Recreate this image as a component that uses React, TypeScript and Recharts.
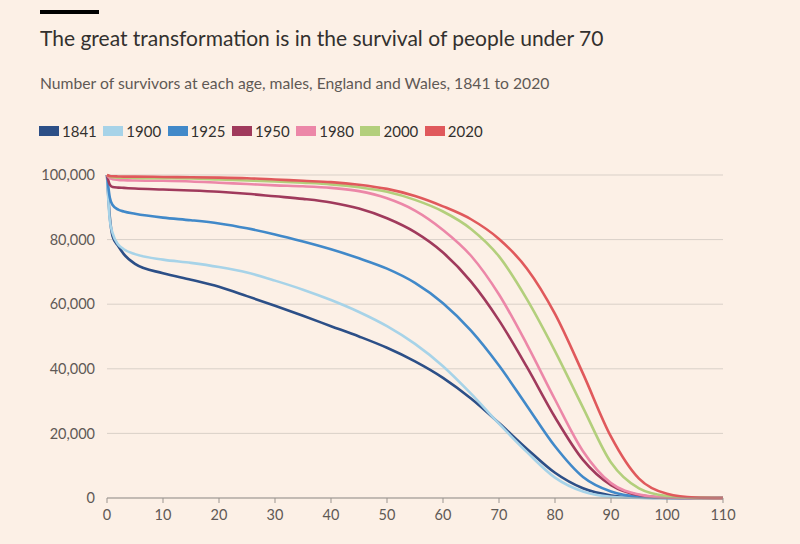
import React from "react";
import { LineChart, Line, XAxis, YAxis, CartesianGrid } from "recharts";

const ages = [0, 0.5, 1, 2, 3, 5, 10, 15, 20, 25, 30, 35, 40, 45, 50, 55, 60, 65, 70, 75, 80, 85, 90, 95, 100, 105, 110];

// survivors in thousands
const s1841 = [100, 87, 81, 78, 75.5, 72.5, 69.6, 67.6, 65.4, 62.5, 59.5, 56.4, 53.2, 50, 46.5, 42.3, 37.2, 30.8, 23.2, 15.2, 7.8, 3, 0.8, 0.12, 0, 0, 0];
const s1900 = [100, 86, 82, 78.5, 77, 75.5, 73.8, 72.8, 71.5, 69.8, 67.3, 64.5, 61.3, 57.6, 53.2, 47.7, 40.8, 32.3, 23, 14.2, 6.3, 2, 0.4, 0.05, 0, 0, 0];
const s1925 = [100, 93, 90.7, 89.3, 88.7, 88, 86.8, 86, 85, 83.5, 81.6, 79.4, 77, 74.2, 71, 66.6, 60.3, 51.8, 41, 28.5, 16, 6.5, 2, 0.4, 0.05, 0, 0];
const s1950 = [100, 97, 96.3, 96.1, 96, 95.8, 95.5, 95.2, 94.8, 94.2, 93.4, 92.6, 91.5, 89.6, 86.6, 82.3, 76, 67, 55, 40.5, 25, 11.8, 4, 0.9, 0.1, 0, 0];
const s1980 = [100, 99, 98.7, 98.5, 98.4, 98.3, 98.2, 98, 97.6, 97.2, 96.8, 96.5, 96, 95, 92.8, 89, 83, 75, 63, 47.5, 30.5, 14.5, 4.6, 1.1, 0.15, 0, 0];
const s2000 = [100, 99.5, 99.3, 99.2, 99.2, 99.1, 99, 98.9, 98.6, 98.3, 98, 97.6, 97.1, 96.2, 94.8, 92.3, 88.7, 83.3, 74.8, 61.5, 45.5, 28, 11, 3, 0.6, 0.05, 0];
const s2020 = [100, 99.7, 99.6, 99.55, 99.5, 99.5, 99.4, 99.3, 99.2, 99, 98.6, 98.2, 97.8, 97, 95.7, 93.5, 90.3, 86.3, 80.2, 71, 57, 38.5, 19, 6, 1.3, 0.15, 0];

const seriesNames = ["1841", "1900", "1925", "1950", "1980", "2000", "2020"];
const seriesValues = [s1841, s1900, s1925, s1950, s1980, s2000, s2020];
const seriesColors = ["#2c4f87", "#a7d3e8", "#4189c9", "#a03a5c", "#ec87a8", "#b3cf7c", "#e0595c"];

const xTicks = [0, 10, 20, 30, 40, 50, 60, 70, 80, 90, 100, 110];
const yTicks = [0, 20000, 40000, 60000, 80000, 100000];

const title = "The great transformation is in the survival of people under 70";
const subtitle = "Number of survivors at each age, males, England and Wales, 1841 to 2020";

const data = ages.map((age, i) => {
  const row: Record<string, number> = { age };
  seriesNames.forEach((n, k) => {
    row[n] = seriesValues[k][i] * 1000;
  });
  return row;
});

const FONT = "Lato, 'Open Sans', sans-serif";

export default function App() {
  return (
    <div
      style={{
        position: "fixed",
        left: 0,
        top: 0,
        width: 800,
        height: 544,
        background: "#fcf0e6",
        fontFamily: FONT,
        overflow: "hidden",
      }}
    >
      <div style={{ position: "absolute", left: 40, top: 10, width: 59, height: 4, background: "#000" }} />
      <div
        style={{
          position: "absolute",
          left: 40,
          top: 25,
          fontSize: 21,
          color: "#33302e",
          whiteSpace: "nowrap",
        }}
      >
        {title}
      </div>
      <div
        style={{
          position: "absolute",
          left: 40,
          top: 74,
          fontSize: 15.7,
          color: "#5f5955",
          whiteSpace: "nowrap",
        }}
      >
        {subtitle}
      </div>
      <div style={{ position: "absolute", left: 39, top: 122, display: "flex" }}>
        {seriesNames.map((n, k) => (
          <div key={n} style={{ width: 64.3, display: "flex", alignItems: "center", height: 18 }}>
            <div style={{ width: 20, height: 10, background: seriesColors[k], marginRight: 3 }} />
            <span style={{ fontSize: 15, color: "#33302e" }}>{n}</span>
          </div>
        ))}
      </div>
      <div style={{ position: "absolute", left: 0, top: 0 }}>
        <LineChart
          width={800}
          height={544}
          data={data}
          margin={{ top: 175, right: 77, bottom: 16, left: 0 }}
        >
          <CartesianGrid vertical={false} stroke="#d9d0c8" strokeWidth={1} />
          <XAxis
            dataKey="age"
            type="number"
            domain={[0, 110]}
            ticks={xTicks}
            interval={0}
            height={30}
            axisLine={{ stroke: "#9b9590", strokeWidth: 1 }}
            tickLine={{ stroke: "#9b9590" }}
            tickSize={5}
            tickMargin={7}
            tick={{ fill: "#5f5955", fontSize: 14.5, fontFamily: FONT }}
          />
          <YAxis
            type="number"
            domain={[0, 100000]}
            ticks={yTicks}
            interval={0}
            width={107}
            axisLine={false}
            tickLine={false}
            tickSize={0}
            tickMargin={12}
            tickFormatter={(v: number) => v.toLocaleString("en-US")}
            tick={{ fill: "#5f5955", fontSize: 14.5, fontFamily: FONT }}
          />
          {seriesNames.map((n, k) => (
            <Line
              key={n}
              dataKey={n}
              type="monotone"
              stroke={seriesColors[k]}
              strokeWidth={2.6}
              dot={false}
              activeDot={false}
              isAnimationActive={false}
            />
          ))}
        </LineChart>
      </div>
    </div>
  );
}
